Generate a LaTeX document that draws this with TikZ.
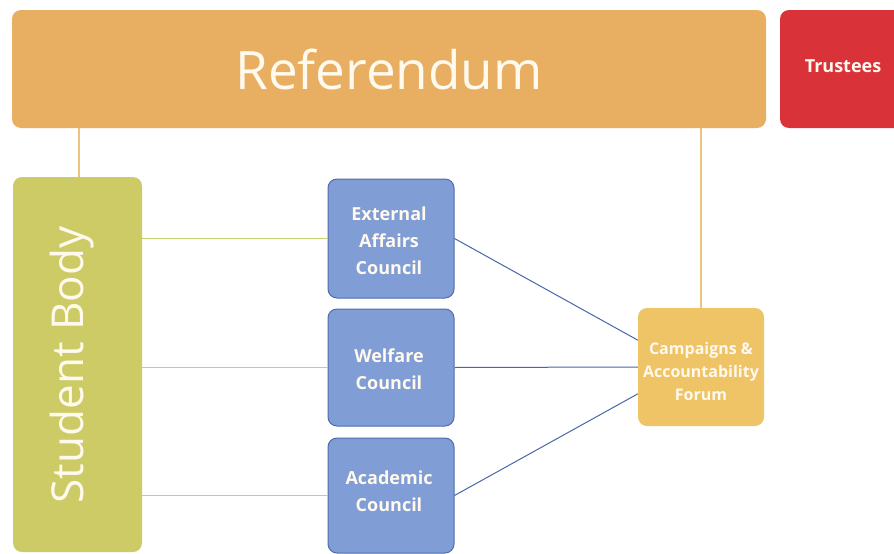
\documentclass[tikz,border=0pt]{standalone}
\usepackage{fontspec}
\setmainfont{Open Sans}
\definecolor{refcol}{HTML}{E8AF63}
\definecolor{trustcol}{HTML}{DA3239}
\definecolor{bodycol}{HTML}{CDCB66}
\definecolor{councol}{HTML}{809DD5}
\definecolor{counline}{HTML}{4F6DAE}
\definecolor{forumcol}{HTML}{EEC467}
\definecolor{greenline}{HTML}{C6D070}
\definecolor{orangeline}{HTML}{ECC47E}
\definecolor{blueline}{HTML}{4A66AA}
\definecolor{paletext}{HTML}{FFF9EE}
\begin{document}
\begin{tikzpicture}[x=1pt,y=-1pt,
  box/.style={rounded corners=9pt, inner sep=0pt, text=paletext, align=center},
  council/.style={box, fill=councol, draw=counline, line width=1pt,
    minimum width=126pt, font=\bfseries\fontsize{18}{27}\selectfont},
  label/.style={text=paletext, align=center},
  greenlink/.style={draw=greenline, line width=1.2pt},
  orangelink/.style={draw=orangeline, line width=1.2pt},
  bluelink/.style={draw=blueline, line width=1pt}]
\useasboundingbox (0,0) rectangle (894,554);
\fill[white] (0,0) rectangle (894,554);

% top row
\node[box, fill=refcol, minimum width=754pt, minimum height=118pt,
  font=\fontsize{53}{60}\selectfont] (ref) at (389,69) {Referendum};
\node[box, fill=trustcol, minimum width=126pt, minimum height=118pt] (trust) at (843,69) {};
\node[label, font=\bfseries\fontsize{18}{22}\selectfont] (trusttext) at (843,66) {Trustees};

% student body column
\node[box, fill=bodycol, minimum width=129pt, minimum height=375pt] (sb) at (77.5,364.5) {};
\node[label, rotate=90, font=\fontsize{44}{50}\selectfont] (sbtext) at (72,365) {Student Body};

% councils
\node[council, minimum height=119pt] (ext) at (391,238.5) {};
\node[label, font=\bfseries\fontsize{18}{27}\selectfont] (exttext) at (389,241) {External\\Affairs\\Council};
\node[council, minimum height=117pt] (wel) at (391,367.5) {};
\node[label, font=\bfseries\fontsize{18}{27}\selectfont] (weltext) at (389,369) {Welfare\\Council};
\node[council, minimum height=115pt] (aca) at (391,495.5) {};
\node[label, font=\bfseries\fontsize{18}{27}\selectfont] (acatext) at (389,491) {Academic\\Council};

% forum
\node[box, fill=forumcol, minimum width=126pt, minimum height=118pt] (forum) at (701,367) {};
\node[label, font=\bfseries\fontsize{16}{23}\selectfont] (forumtext) at (701,371) {Campaigns \&\\Accountability\\Forum};

% connectors
\draw[orangelink] (ref.south -| 79,0) -- (sb.north -| 79,0);
\draw[orangelink] (ref.south -| forum.north) -- (forum.north);
\draw[greenlink] (sb.east |- ext.west) -- (ext.west);
\draw[greenlink] (sb.east |- wel.west) -- (wel.west);
\draw[greenlink] (sb.east |- aca.west) -- (aca.west);
\draw[bluelink] (ext.east) -- (forum.157);
\draw[bluelink] (wel.east) -- (forum.west);
\draw[bluelink] (aca.east) -- (forum.203);
\end{tikzpicture}
\end{document}
